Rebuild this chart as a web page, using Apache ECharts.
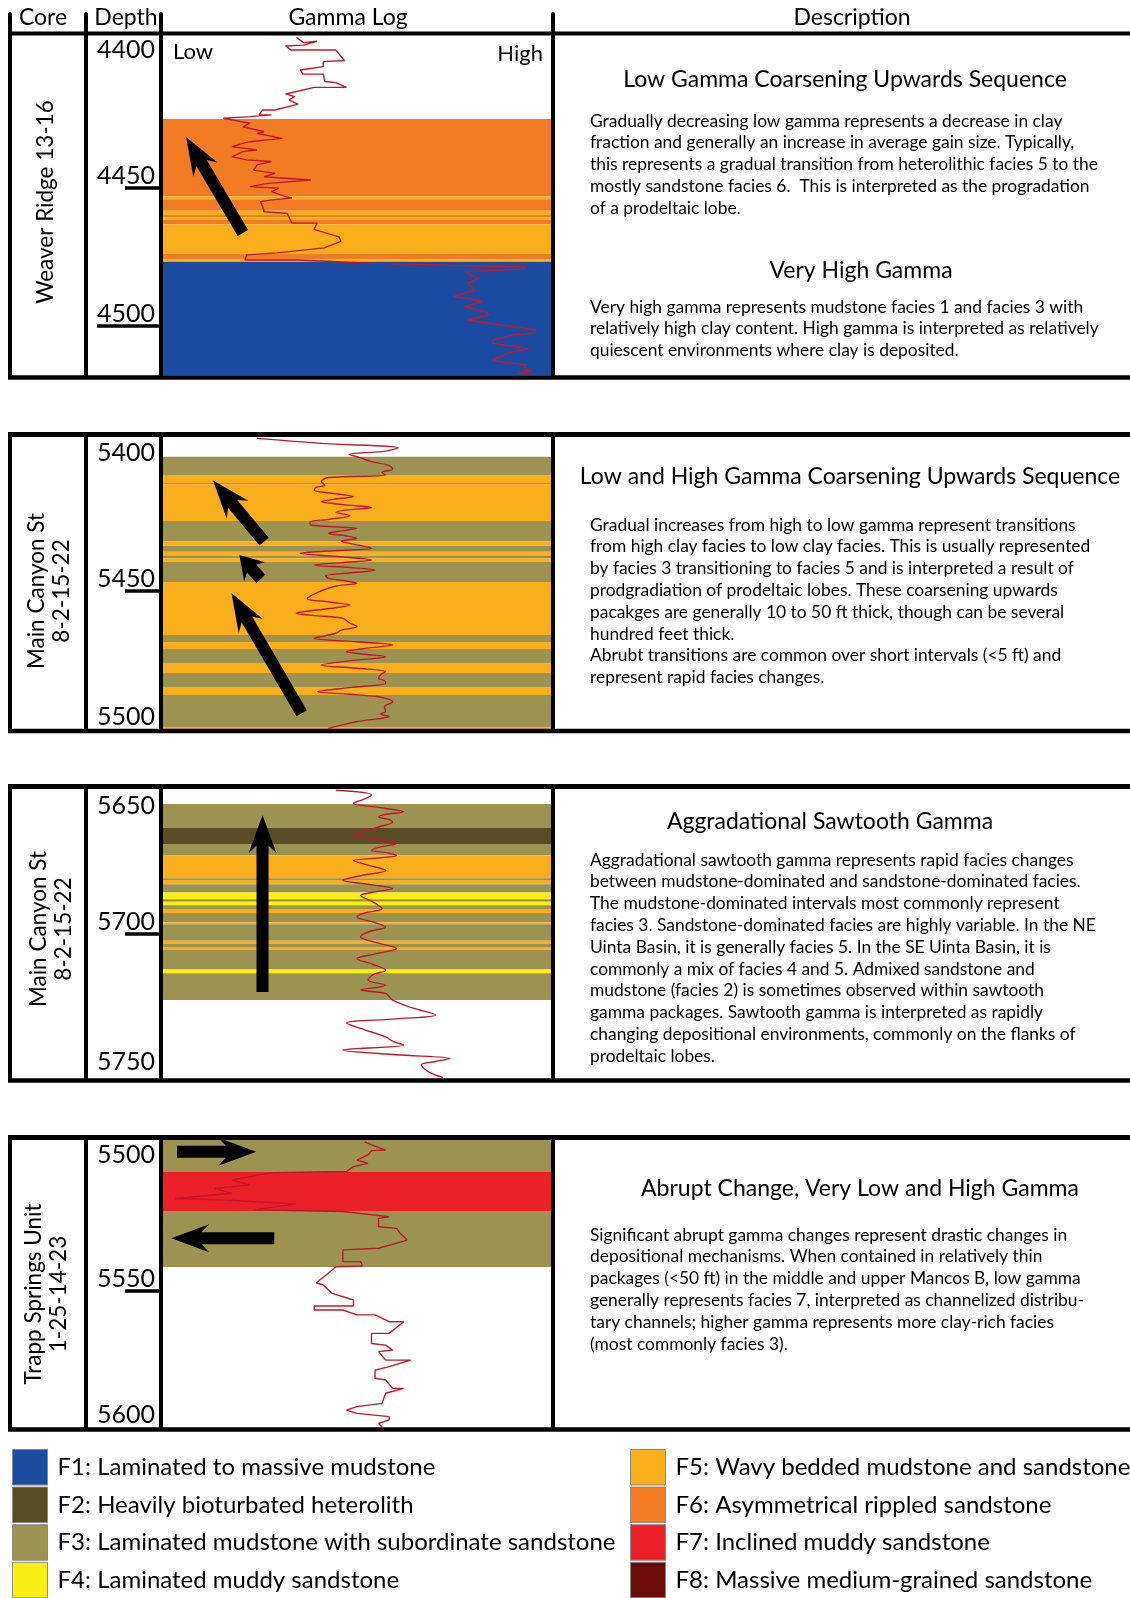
<!DOCTYPE html>
<html>
<head>
<meta charset="utf-8">
<script src="https://cdn.jsdelivr.net/npm/echarts@6/dist/echarts.min.js"></script>
<style>
  html, body { margin: 0; padding: 0; background: #fff; }
  #chart { width: 1130px; height: 1598px; }
</style>
</head>
<body>
<div id="chart"></div>
<script>
// facies legend
const faciesNames = [
  "F1: Laminated to massive mudstone",
  "F2: Heavily bioturbated heterolith",
  "F3: Laminated mudstone with subordinate sandstone",
  "F4: Laminated muddy sandstone",
  "F5: Wavy bedded mudstone and sandstone",
  "F6: Asymmetrical rippled sandstone",
  "F7: Inclined muddy sandstone",
  "F8: Massive medium-grained sandstone"
];
const faciesColors = ["#1c4ca1", "#5a4d24", "#9c9352", "#fbef12", "#f9ae1c", "#f27c24", "#ec2029", "#6a0c0c"];

// wells
const wellNames = [
  ["Weaver Ridge 13-16"],
  ["Main Canyon St", "8-2-15-22"],
  ["Main Canyon St", "8-2-15-22"],
  ["Trapp Springs Unit", "1-25-14-23"]
];
const depthRanges = [[4394.9, 4517.75], [5394.2, 5500], [5648.6, 5751.4], [5494.5, 5600]];
const depthLabels = [[4400, 4450, 4500], [5400, 5450, 5500], [5650, 5700, 5750], [5500, 5550, 5600]];
const depthTicks = [[4450], [5450], [5700], [5550]];
const longTicks = [[4500], [], [], []];

// facies bands: [top depth, base depth, facies index]
const bands1 = [[4425.0,4453.1,5],[4453.1,4454.1,4],[4454.1,4458.2,5],[4458.2,4459.8,4],[4459.8,4460.6,5],[4460.6,4461.6,4],[4461.6,4463.1,5],[4463.1,4473.9,4],[4473.9,4475.8,5],[4475.8,4476.7,4],[4476.7,4518,0]];
const bands2 = [[5401.4,5408.0,2],[5408.0,5410.9,4],[5410.9,5411.4,5],[5411.4,5424.6,4],[5424.6,5432.1,2],[5432.1,5433.6,4],[5433.6,5435.8,2],[5435.8,5437.3,4],[5437.3,5438.1,2],[5438.1,5439.4,4],[5439.4,5446.7,2],[5446.7,5465.9,4],[5465.9,5468.5,2],[5468.5,5471.0,4],[5471.0,5476.1,2],[5476.1,5479.7,4],[5479.7,5484.8,2],[5484.8,5487.7,4],[5487.7,5499.3,2],[5499.3,5500,4]];
const bands3 = [[5653.6,5662.2,2],[5662.2,5667.9,1],[5667.9,5671.9,2],[5671.9,5680.1,4],[5680.1,5680.7,2],[5680.7,5682.2,4],[5682.2,5685.2,2],[5685.2,5687.6,3],[5687.6,5688.5,2],[5688.5,5689.7,3],[5689.7,5691.1,2],[5691.1,5692.5,4],[5692.5,5695.8,2],[5695.8,5696.5,4],[5696.5,5702.4,2],[5702.4,5703.6,4],[5703.6,5704.6,2],[5704.6,5705.5,4],[5705.5,5712.7,2],[5712.7,5714.0,3],[5714.0,5723.6,2]];
const bands4 = [[5494.5,5506.3,2],[5506.3,5520.6,6],[5520.6,5541.2,2]];

// gamma log: [depth, gamma (0 low - 100 high)]
const gammaLog1 = [[4395.4,34.5],[4397.3,36.4],[4396.8,39.8],[4398.2,36.4],[4398.5,31.8],[4400.0,33.2],[4400.0,44.6],[4403.8,46.8],[4404.2,41.4],[4406.0,41.4],[4407.2,35.5],[4408.7,36.2],[4408.7,41.4],[4411.4,41.8],[4411.8,44.6],[4413.5,47.3],[4413.5,39.1],[4415.9,31.8],[4416.9,34.1],[4418.1,32.7],[4419.6,35.0],[4421.7,29.1],[4421.7,25.9],[4423.5,25.0],[4423.5,28.2],[4424.1,22.7],[4424.7,15.9],[4426.5,22.7],[4427.8,20.9],[4429.6,26.3],[4430.2,24.5],[4432.0,30.9],[4433.2,22.7],[4433.8,20.9],[4435.0,18.1],[4436.2,24.5],[4436.8,20.9],[4438.6,18.1],[4439.8,21.8],[4440.4,28.2],[4441.6,24.5],[4443.5,23.6],[4444.7,29.1],[4445.9,26.3],[4447.1,38.2],[4448.3,27.3],[4449.5,22.7],[4450.1,30.0],[4451.3,28.2],[4453.1,31.8],[4453.6,33.4],[4454.3,28.2],[4454.9,25.4],[4457.0,26.0],[4458.6,26.3],[4459.2,32.2],[4462.7,33.4],[4462.7,39.8],[4465.0,39.0],[4467.7,45.4],[4469.3,45.9],[4471.7,41.6],[4473.5,29.6],[4474.2,21.9],[4476.1,21.4],[4476.1,35.0],[4477.3,54.6],[4478.6,92.9],[4479.4,92.9],[4480.3,77.4],[4482.7,81.0],[4484.5,78.3],[4487.0,80.1],[4489.3,74.6],[4490.0,78.3],[4491.2,81.9],[4493.0,77.4],[4494.8,82.8],[4496.0,83.7],[4497.2,80.1],[4497.8,78.3],[4499.6,86.5],[4500.8,92.9],[4501.4,95.6],[4502.6,94.7],[4503.2,90.1],[4505.0,84.7],[4506.3,84.7],[4507.5,91.0],[4508.1,93.8],[4509.9,88.3],[4512.3,84.7],[4512.9,86.5],[4514.1,92.9],[4515.9,92.9],[4516.5,94.7],[4517.1,91.0]];
const gammaLog2 = [[5394.7,24.5],[5396.5,40.9],[5398.1,60.5],[5399.3,57.3],[5400.5,48],[5401.3,50.0],[5403.1,53.7],[5404.5,58],[5405.8,59.1],[5407,56.4],[5408.0,57.3],[5408.9,42.7],[5410.4,40.9],[5411.6,41.8],[5412.5,39.5],[5413.4,39.1],[5415.0,46],[5415.8,49.1],[5416.8,44],[5417.6,40.9],[5418.8,47],[5419.8,53.7],[5420.7,47],[5421.5,44.6],[5422.7,48.2],[5424,43],[5425,38],[5426.1,38.2],[5427.3,50.0],[5428.2,46],[5429.1,42.7],[5430.0,47],[5430.9,50.0],[5432,46],[5433,49],[5434.5,53.7],[5435.4,44],[5436.3,35.5],[5437.5,45],[5438.8,53.7],[5439.7,46],[5440.6,39.1],[5441.5,48],[5442.4,54.6],[5443.5,48],[5444.5,42],[5445.4,42.7],[5446.3,47],[5447.2,50.0],[5448.1,45],[5449.0,42.7],[5450.5,40],[5452.7,37.3],[5454,43],[5455.1,48.2],[5456.5,42],[5458.1,34.5],[5459.0,40],[5459.9,46.4],[5461.5,48],[5462.9,50.0],[5464.2,46],[5465.3,44.6],[5466.2,42],[5467.1,39.1],[5468.4,50],[5469.6,59.1],[5470.8,52],[5472.0,47.3],[5472.9,52],[5473.8,57.3],[5475.3,48],[5476.8,40.9],[5478,50],[5479.2,57.3],[5480.4,56],[5481.6,55.5],[5482.5,57],[5483.4,57.3],[5485,48],[5486.5,40.0],[5487.4,48],[5488.3,55.5],[5489.2,58],[5490.1,59.1],[5492,57],[5493.7,57.3],[5494.6,56],[5495.5,58.2],[5497.3,50.0],[5499.8,42.7]];
const gammaLog3 = [[5648.7,44.6],[5650.3,53.7],[5651.8,52],[5653.3,49.1],[5654.9,56],[5656.4,61.9],[5657.4,57],[5658.2,55.5],[5659.1,58],[5660.0,59.1],[5661.8,55.5],[5663.3,52],[5664.7,49.1],[5666.3,56],[5667.7,60.1],[5668.9,56],[5670.1,53.7],[5671.1,58],[5672.0,60.1],[5672.9,55],[5673.8,49.1],[5675.5,53],[5677.3,57.3],[5679.2,51],[5680.8,46.4],[5682.3,53],[5683.8,59.1],[5685.1,54],[5686.3,50.9],[5688.5,54],[5691.0,56.4],[5692.5,52],[5693.9,50.0],[5695.7,54],[5697.5,57.3],[5699.2,53],[5701.0,50.9],[5703.1,55],[5705.2,60.1],[5707.0,55],[5708.8,50.0],[5710.8,54],[5712.9,57.3],[5714.6,54],[5716.4,52.8],[5718.3,57.3],[5720.0,50.9],[5721.2,57.3],[5723.6,59.1],[5726.3,64],[5728.9,70.1],[5730.3,60],[5731.8,47.3],[5734.2,52],[5736.7,57.3],[5738.2,59],[5739.6,61.9],[5741.4,46.4],[5743.1,60],[5744.4,73.7],[5745.5,70],[5746.7,66.4],[5749.2,68.3],[5751.2,71.9]];
const gammaLog4 = [[5495.1,51.9],[5496.3,53.7],[5498.2,57.3],[5498.4,53.7],[5500.0,52.8],[5501.9,50.0],[5503.1,52.8],[5504.3,49.1],[5506.1,47.3],[5506.5,28.2],[5509.2,18.1],[5511.0,22.7],[5512.3,13.6],[5514.1,18.1],[5516.0,3.6],[5516.6,17.2],[5518.0,34.5],[5520.2,23.6],[5520.8,46.4],[5522.7,58.2],[5523.3,55.5],[5526.4,55.5],[5527.0,60.1],[5528.8,61.0],[5531.3,62.8],[5534.3,55.5],[5534.9,46.4],[5539.2,46.4],[5539.2,50.9],[5540.8,51.4],[5541.1,44.6],[5543.5,42.7],[5547.0,39.6],[5547.8,41.4],[5550.9,43.7],[5553.3,49.1],[5555.5,49.1],[5555.5,39.1],[5557.0,39.1],[5557.0,46.4],[5558.8,50.0],[5558.8,54.6],[5561.3,58.2],[5561.3,61.9],[5565.6,58.2],[5565.6,53.7],[5569.3,53.7],[5569.9,57.3],[5571.7,59.1],[5572.3,55.5],[5575.4,57.3],[5575.4,63.7],[5577.8,58.2],[5579.1,54.6],[5582.1,54.6],[5582.7,57.3],[5585.8,59.1],[5585.8,61.9],[5587.6,57.3],[5591.3,56.4],[5592.5,50.0],[5593.8,47.3],[5595.0,50.0],[5596.2,58.2],[5597.4,58.2],[5598.7,55.5],[5600,56.4]];

// trend arrows: [gamma tail, depth tail, gamma tip, depth tip]
const arrows1 = [[20.9, 4466.3, 6.4, 4431.5]];
const arrows2 = [[26.3, 5432.1, 13.3, 5410.0], [25.5, 5445.6, 20.0, 5437.0], [35.9, 5494.3, 18.0, 5450.8]];
const arrows3 = [[25.9, 5720.7, 25.9, 5657.6]];
const arrows4 = [[4.1, 5498.8, 24.3, 5498.8], [28.9, 5530.6, 2.6, 5530.6]];

// description texts
const descTitles = [
  ["Low Gamma Coarsening Upwards Sequence", "Very High Gamma"],
  ["Low and High Gamma Coarsening Upwards Sequence"],
  ["Aggradational Sawtooth Gamma"],
  ["Abrupt Change, Very Low and High Gamma"]
];
const descBodies = [
  [
    ["Gradually decreasing low gamma represents a decrease in clay",
     "fraction and generally an increase in average gain size. Typically,",
     "this represents a gradual transition from heterolithic facies 5 to the",
     "mostly sandstone facies 6.  This is interpreted as the progradation",
     "of a prodeltaic lobe."],
    ["Very high gamma represents mudstone facies 1 and facies 3 with",
     "relatively high clay content. High gamma is interpreted as relatively",
     "quiescent environments where clay is deposited."]
  ],
  [
    ["Gradual increases from high to low gamma represent transitions",
     "from high clay facies to low clay facies. This is usually represented",
     "by facies 3 transitioning to facies 5 and is interpreted a result of",
     "prodgradiation of prodeltaic lobes. These coarsening upwards",
     "pacakges are generally 10 to 50 ft thick, though can be several",
     "hundred feet thick.",
     "Abrubt transitions are common over short intervals (<5 ft) and",
     "represent rapid facies changes."]
  ],
  [
    ["Aggradational sawtooth gamma represents rapid facies changes",
     "between mudstone-dominated and sandstone-dominated facies.",
     "The mudstone-dominated intervals most commonly represent",
     "facies 3. Sandstone-dominated facies are highly variable. In the NE",
     "Uinta Basin, it is generally facies 5. In the SE Uinta Basin, it is",
     "commonly a mix of facies 4 and 5. Admixed sandstone and",
     "mudstone (facies 2) is sometimes observed within sawtooth",
     "gamma packages. Sawtooth gamma is interpreted as rapidly",
     "changing depositional environments, commonly on the flanks of",
     "prodeltaic lobes."]
  ],
  [
    ["Significant abrupt gamma changes represent drastic changes in",
     "depositional mechanisms. When contained in relatively thin",
     "packages (<50 ft) in the middle and upper Mancos B, low gamma",
     "generally represents facies 7, interpreted as channelized distribu-",
     "tary channels; higher gamma represents more clay-rich facies",
     "(most commonly facies 3)."]
  ]
];

const bandsAll = [bands1, bands2, bands3, bands4];
const logsAll = [gammaLog1, gammaLog2, gammaLog3, gammaLog4];
const arrowsAll = [arrows1, arrows2, arrows3, arrows4];

// layout (pixels)
const FONT = "Lato";
const gridTop = [36, 437, 790, 1140];
const gridHeight = [339, 292, 288, 287];
const panelTop = [33.5, 434.5, 786.5, 1137.5];
const panelBottom = [377.5, 731, 1080.5, 1429.5];
const colX = [10, 86, 161, 553];
const topLabelAlign = ["middle", "middle", "top", "middle"];
const coreLabelPos = [[46, 202], [49, 591], [51, 929], [46, 1294]];
const titlePos = [[[845, 80], [861, 271]], [[850, 477]], [[830, 822]], [[860, 1189]]];
const bodyTop = [[110, 296], [514], [849], [1224]];
const LINE_H = 21.8;

const chart = echarts.init(document.getElementById("chart"));

function bandItem(params, api) {
  const a = api.coord([0, api.value(0)]);
  const b = api.coord([100, api.value(1)]);
  return {
    type: "rect",
    shape: { x: a[0], y: a[1], width: b[0] - a[0], height: b[1] - a[1] },
    style: { fill: faciesColors[api.value(2)] }
  };
}

function arrowItem(params, api) {
  const p1 = api.coord([api.value(0), api.value(1)]);
  const p2 = api.coord([api.value(2), api.value(3)]);
  const dx = p2[0] - p1[0], dy = p2[1] - p1[1];
  const len = Math.hypot(dx, dy);
  const ux = dx / len, uy = dy / len, nx = -uy, ny = ux;
  const w = 6, hw = 14, hl = Math.min(38, len * 0.7), notch = hl * 0.8;
  const pt = (t, s) => [p1[0] + ux * t + nx * s, p1[1] + uy * t + ny * s];
  return {
    type: "polygon",
    shape: { points: [pt(0, -w), pt(len - notch, -w), pt(len - hl, -hw), pt(len, 0),
                      pt(len - hl, hw), pt(len - notch, w), pt(0, w)] },
    style: { fill: "#000" }
  };
}

const depthFmt = v => String(v);
const grid = [], xAxis = [], yAxis = [], series = [];
for (let i = 0; i < 4; i++) {
  grid.push({ left: 161, width: 392, top: gridTop[i], height: gridHeight[i] });
  xAxis.push({ gridIndex: i, type: "value", min: 0, max: 100, show: false });
  const base = {
    gridIndex: i, type: "value", inverse: true,
    min: depthRanges[i][0], max: depthRanges[i][1],
    position: "left", axisLine: { show: false }, splitLine: { show: false }
  };
  // top label at its depth, plus any long tick
  yAxis.push(Object.assign({}, base, {
    axisTick: { show: longTicks[i].length > 0, customValues: longTicks[i], length: 64,
                lineStyle: { color: "#000", width: 3.5 } },
    axisLabel: { customValues: [depthLabels[i][0]], verticalAlign: topLabelAlign[i], margin: 6,
                 formatter: depthFmt, fontSize: 25, fontFamily: FONT, color: "#000" }
  }));
  // other labels sit above their tick
  yAxis.push(Object.assign({}, base, {
    axisTick: { show: true, customValues: depthTicks[i], length: 36,
                lineStyle: { color: "#000", width: 3.5 } },
    axisLabel: { customValues: depthLabels[i].slice(1), verticalAlign: "bottom", margin: 6,
                 formatter: depthFmt, fontSize: 25, fontFamily: FONT, color: "#000" }
  }));

  series.push({
    type: "custom", name: "bands" + i, xAxisIndex: i, yAxisIndex: 2 * i,
    renderItem: bandItem, data: bandsAll[i], clip: true, z: 1, silent: true
  });
  series.push({
    type: "line", name: "gamma" + i, xAxisIndex: i, yAxisIndex: 2 * i,
    data: logsAll[i].map(p => [p[1], p[0]]),
    showSymbol: false, symbol: "none", clip: true, z: 3,
    smooth: (i === 1 || i === 2) ? 0.35 : false,
    lineStyle: { color: "#c2182c", width: 1.4 }
  });
  series.push({
    type: "custom", name: "arrows" + i, xAxisIndex: i, yAxisIndex: 2 * i,
    renderItem: arrowItem, data: arrowsAll[i], clip: false, z: 5, silent: true,
    encode: { x: [0, 2], y: [1, 3] }
  });
}
// legend-only series
faciesNames.forEach((name, k) => {
  series.push({ type: "scatter", name: name, xAxisIndex: 0, yAxisIndex: 0, data: [],
                itemStyle: { color: faciesColors[k], opacity: 1 } });
});

// frame lines and text
const graphic = [];
const line = (x1, y1, x2, y2, w, cap) => graphic.push({
  type: "line", z: 100, shape: { x1, y1, x2, y2 },
  style: { stroke: "#000", lineWidth: w || 4, lineCap: cap || "butt" }
});
const text = (x, y, str, size, opts) => graphic.push(Object.assign({
  type: "text", z: 100, x: x, y: y,
  style: Object.assign({ text: str, fill: "#000", font: size + "px " + FONT,
                         textAlign: "center", textVerticalAlign: "middle" }, (opts && opts.style) || {})
}, (opts && opts.el) || {}));

colX.forEach(x => line(x, 14, x, 33.5, 4, "round"));
for (let i = 0; i < 4; i++) {
  line(8, panelTop[i], 1130, panelTop[i], i === 0 ? 4 : 5);
  line(8, panelBottom[i], 1130, panelBottom[i], 4.5);
  colX.forEach(x => line(x, panelTop[i], x, panelBottom[i], 4));
  text(coreLabelPos[i][0], coreLabelPos[i][1], wellNames[i].join("\n"), 22.5,
       { el: { rotation: Math.PI / 2 }, style: { lineHeight: 25 } });
  descTitles[i].forEach((t, j) => text(titlePos[i][j][0], titlePos[i][j][1], t, 23));
  descBodies[i].forEach((lines, j) => text(590, bodyTop[i][j], lines.join("\n"), 17.4,
       { style: { textAlign: "left", textVerticalAlign: "top", lineHeight: LINE_H } }));
}
text(43, 18, "Core", 23);
text(126, 18, "Depth", 23);
text(348, 18, "Gamma Log", 23);
text(852, 18, "Description", 23);
text(173, 52, "Low", 22, { style: { textAlign: "left" } });
text(543, 54, "High", 22, { style: { textAlign: "right" } });

// one legend per facies so nothing wraps
const legends = faciesNames.map((name, k) => ({
  left: k < 4 ? 12 : 630, top: 1449 + (k % 4) * 37.6,
  orient: "vertical", icon: "rect", itemWidth: 35, itemHeight: 35.5, padding: 0,
  selectedMode: false, itemStyle: { borderColor: "#8a8a8a", borderWidth: 1 },
  textStyle: { fontSize: 24, fontFamily: FONT, color: "#000", padding: [0, 0, 0, 5] },
  data: [name]
}));

chart.setOption({
  animation: false,
  backgroundColor: "#fff",
  grid: grid,
  xAxis: xAxis,
  yAxis: yAxis,
  legend: legends,
  series: series,
  graphic: graphic
});
</script>
</body>
</html>
